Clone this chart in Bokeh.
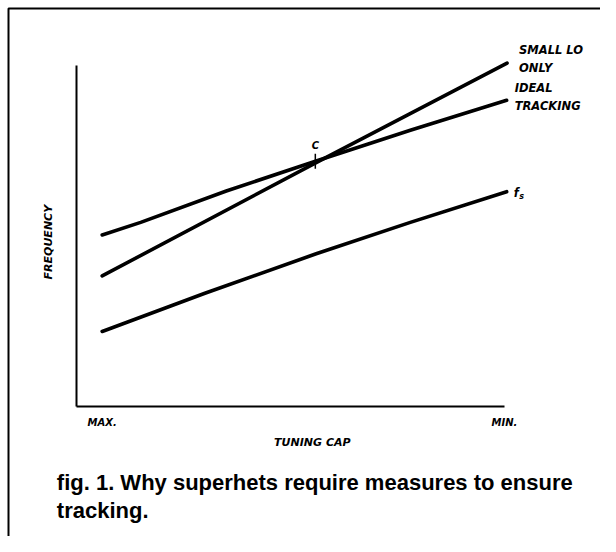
import numpy as np
from bokeh.plotting import figure
from bokeh.models import Range1d, FixedTicker, BoxAnnotation
from bokeh.core.properties import value
from bokeh.embed import file_html
from bokeh.resources import INLINE

# ---- data ----
small_lo_cap = [6, 56, 100.6]
small_lo_freq = [38.3, 71.5, 100.7]

ideal_cap = [6, 15, 35, 56, 78, 100.5]
ideal_freq = [50.3, 54.0, 63.2, 72.0, 81.0, 89.8]

fs_cap = [6, 30, 56, 78, 100.5]
fs_freq = [22.0, 33.2, 44.8, 54.0, 63.0]

series_labels = ["SMALL LO\nONLY", "IDEAL\nTRACKING", "f"]
tracking_point_cap = 55.8
tracking_label = "C"

tick_values = [6, 100]
tick_labels = ["MAX.", "MIN."]
x_label = "TUNING CAP"
y_label = "FREQUENCY"
caption_lines = ["fig. 1. Why superhets require measures to ensure", "tracking."]

LAB_FONT = "DejaVu Sans"
W, H = 600, 536
X0_PX, Y0_PX = 76, 406          # where the axes cross on the canvas
PX_X, PX_Y = 4.28, 3.41         # pixels per data unit

p = figure(width=W, height=H, output_backend="svg", toolbar_location=None, title=None,
           x_range=Range1d(-X0_PX / PX_X, (W - X0_PX) / PX_X),
           y_range=Range1d((Y0_PX - H) / PX_Y, Y0_PX / PX_Y),
           min_border_left=0, min_border_right=0, min_border_top=0, min_border_bottom=0)
p.outline_line_color = None
p.grid.visible = False
p.background_fill_color = "white"
p.border_fill_color = "white"

# page frame (left and top rules of the printed figure box)
p.add_layout(BoxAnnotation(left=8, right=3000, top=8, bottom=3000,
                           left_units="canvas", right_units="canvas",
                           top_units="canvas", bottom_units="canvas",
                           fill_alpha=0, line_color="black", line_alpha=1, line_width=2))

# axes, drawn at the origin
p.xaxis.fixed_location = 0
p.yaxis.fixed_location = 0
p.xaxis.ticker = FixedTicker(ticks=tick_values)
p.xaxis.major_label_overrides = dict(zip(tick_values, tick_labels))
p.xaxis.bounds = (0, 100)
p.yaxis.bounds = (0, 100)
p.yaxis.ticker = FixedTicker(ticks=[])
for ax in (p.xaxis, p.yaxis):
    ax.axis_line_width = 2
    ax.axis_line_color = "black"
    ax.major_tick_line_color = None
    ax.minor_tick_line_color = None
    ax.major_tick_out = 0
    ax.major_tick_in = 0
    ax.minor_tick_out = 0
    ax.major_label_text_font = LAB_FONT
    ax.major_label_text_font_style = "bold italic"
    ax.major_label_text_font_size = "10px"
    ax.major_label_text_color = "black"
p.xaxis.major_label_standoff = 10

lab_style = dict(text_font=value(LAB_FONT), text_font_style="bold italic",
                 text_color="black")

# axis titles
p.text([55.1], [0], text=[x_label], text_font_size="11px", text_align="center",
       text_baseline="middle", y_offset=35.5, **lab_style)
p.text([0], [48.2], text=[y_label], text_font_size="11px", text_align="center",
       text_baseline="middle", x_offset=-27.6, angle=np.pi / 2, **lab_style)

# curves
for xs, ys in ((small_lo_cap, small_lo_freq), (ideal_cap, ideal_freq), (fs_cap, fs_freq)):
    p.line(xs, ys, line_width=3.6, line_color="black", line_cap="round", line_join="round")

# tracking point C
cy = float(np.interp(tracking_point_cap, ideal_cap, ideal_freq))
p.scatter([tracking_point_cap], [cy], marker="dash", angle=np.pi / 2, size=15,
          line_color="black", line_width=1.5)
p.text([tracking_point_cap], [cy], text=[tracking_label], text_font_size="10px",
       text_align="center", text_baseline="middle", y_offset=-16, **lab_style)

# series labels at the end of each curve
ends = [(small_lo_cap[-1], small_lo_freq[-1], 12, -4),
        (ideal_cap[-1], ideal_freq[-1], 8, -3),
        (fs_cap[-1], fs_freq[-1], 7, 1)]
for lab, (ex, ey, dx, dy) in zip(series_labels, ends):
    p.text([ex], [ey], text=[lab], text_font_size="11.5px", text_align="left",
           text_baseline="middle", x_offset=dx, y_offset=dy, text_line_height=1.3,
           **lab_style)
# subscript s of f_s
p.text([fs_cap[-1]], [fs_freq[-1]], text=["s"], text_font_size="8px", text_align="left",
       text_baseline="middle", x_offset=12.5, y_offset=5, **lab_style)

# caption
for i, line in enumerate(caption_lines):
    p.text([0], [0], text=[line], text_font=value("Liberation Sans"), text_font_style="bold",
           text_font_size="22px", text_color="black", text_align="left",
           text_baseline="middle", x_offset=-19.7, y_offset=75.8 + 28.6 * i)

open("out.html", "w").write(file_html(p, INLINE))
